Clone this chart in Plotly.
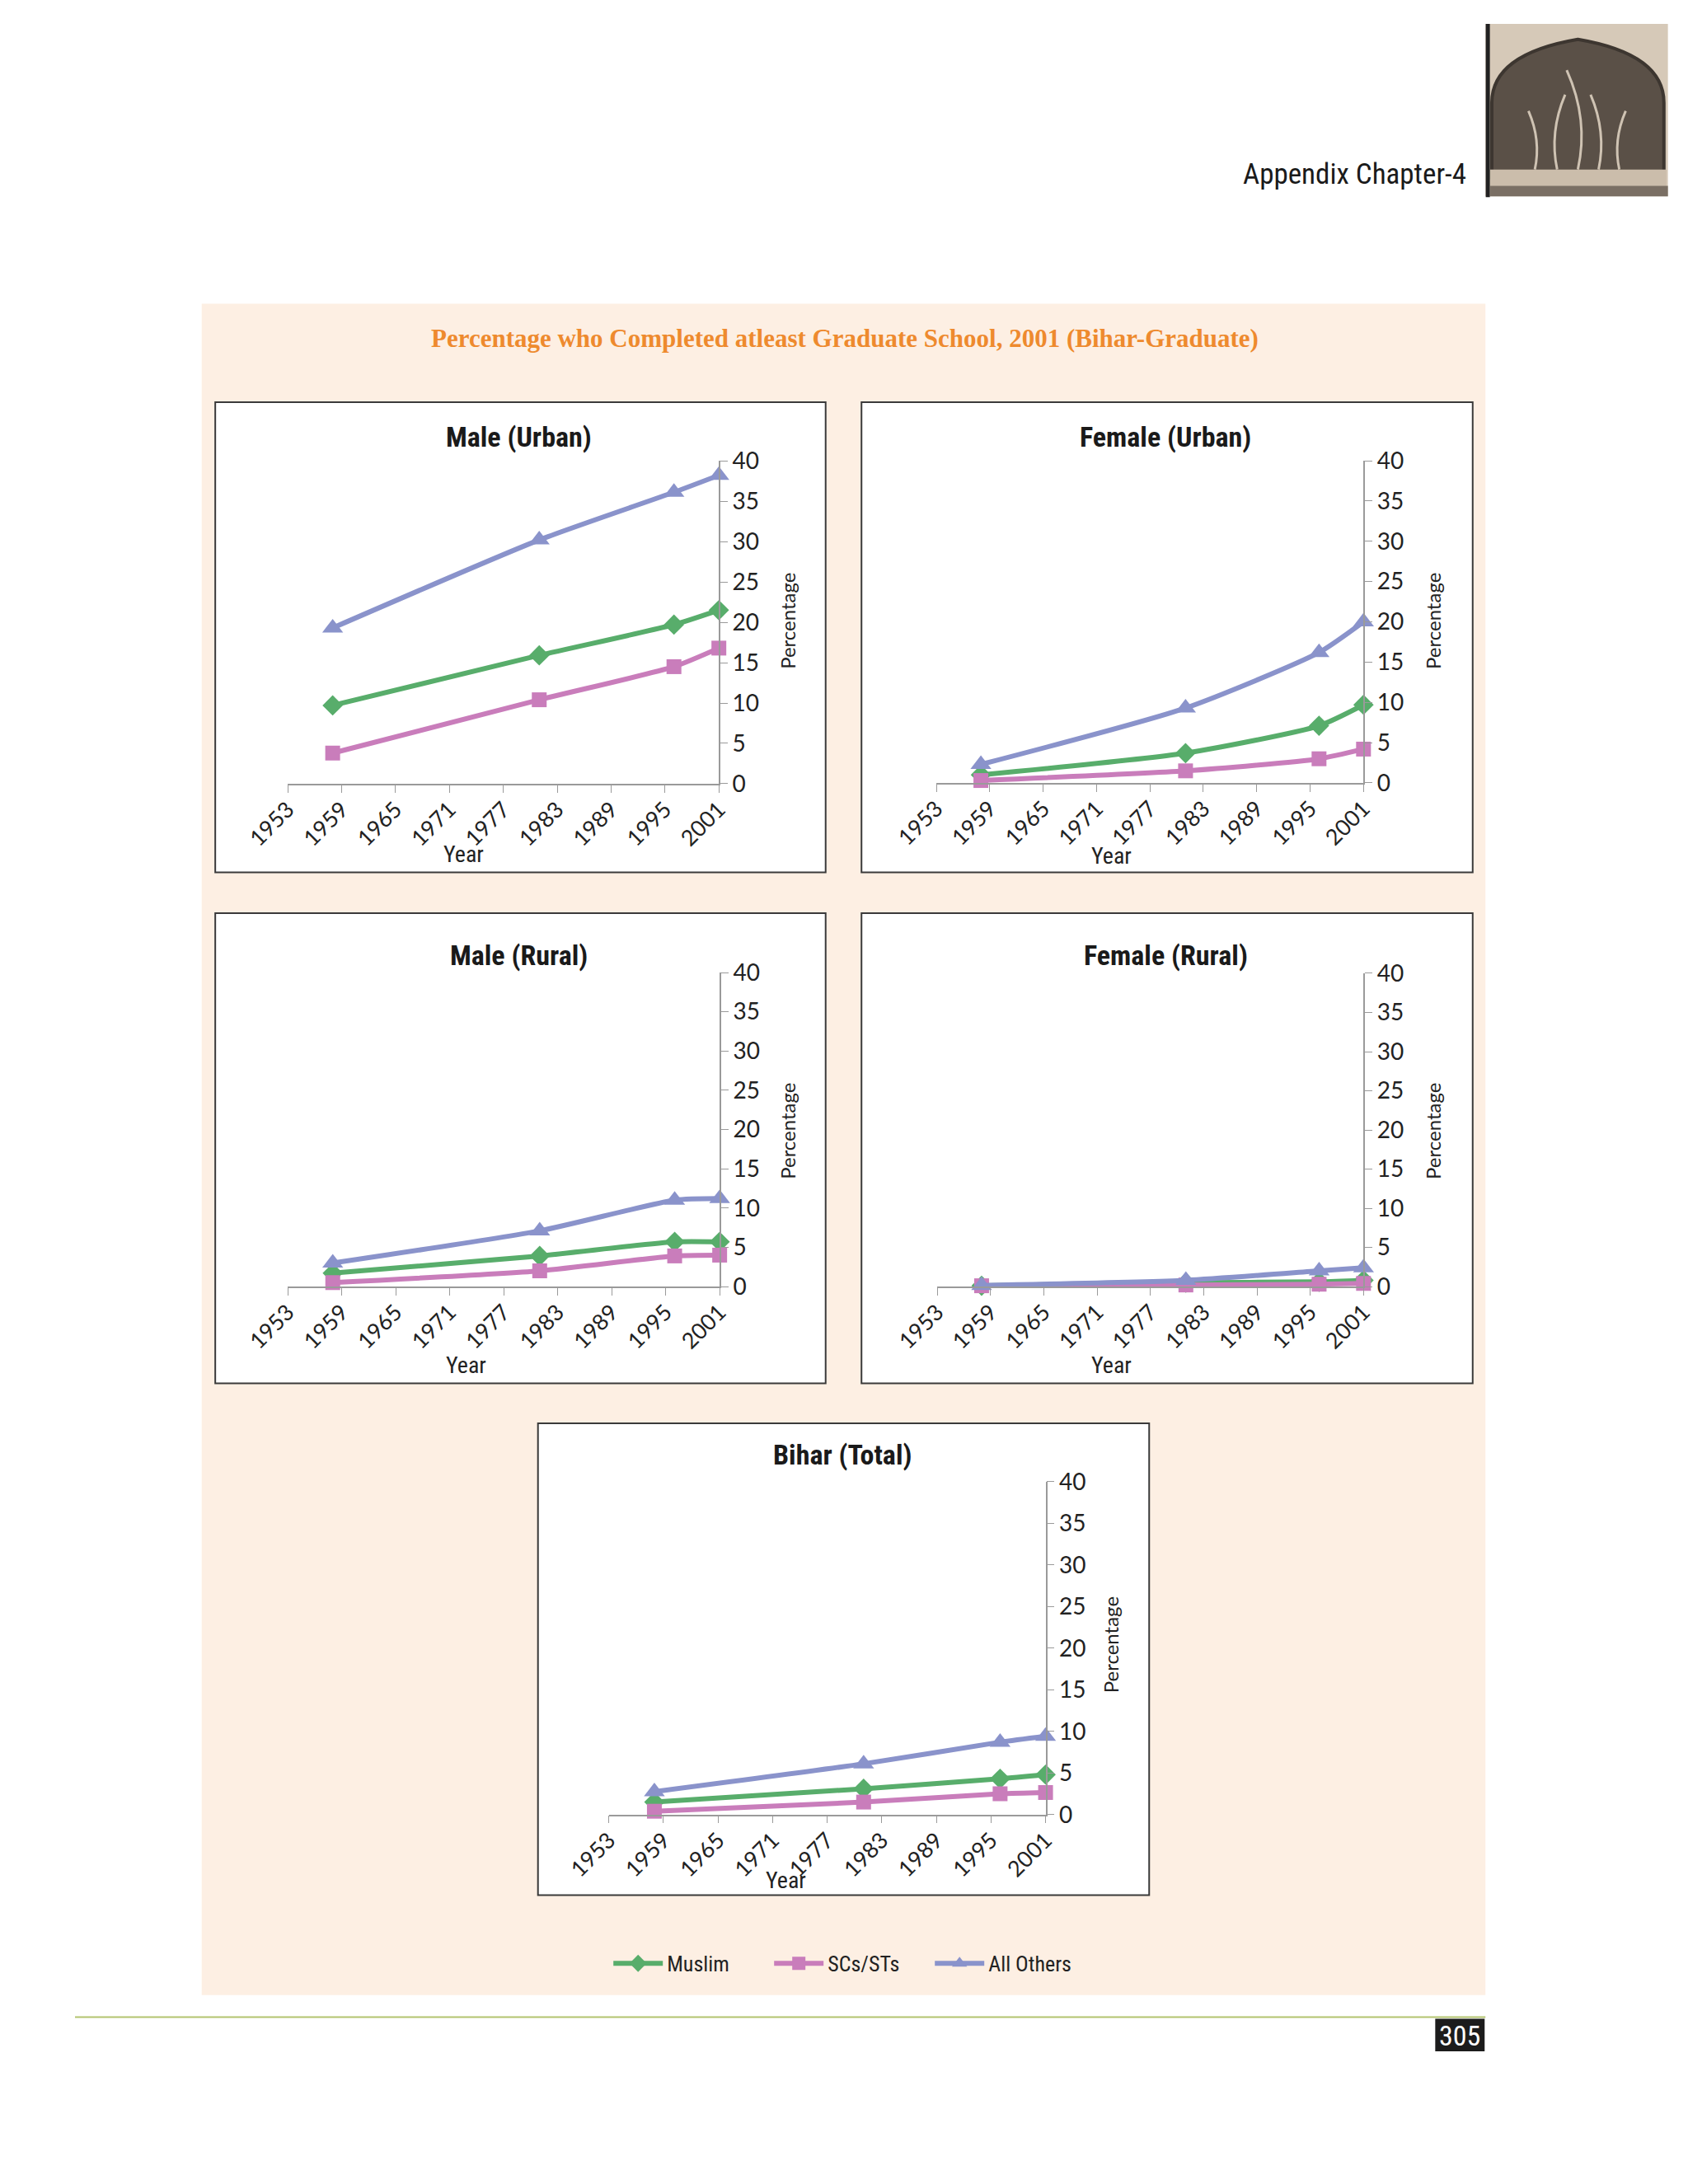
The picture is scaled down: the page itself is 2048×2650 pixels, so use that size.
import plotly.graph_objects as go

W, H = 2048, 2650

# ---- data ----
years = [1958, 1981, 1996, 2001]
year_ticks = [1953, 1959, 1965, 1971, 1977, 1983, 1989, 1995, 2001]
pct_ticks = [0, 5, 10, 15, 20, 25, 30, 35, 40]

series_names = ["Muslim", "SCs/STs", "All Others"]

male_urban_muslim = [9.7, 15.9, 19.7, 21.5]
male_urban_scst = [3.8, 10.4, 14.5, 16.8]
male_urban_others = [19.3, 30.2, 36.1, 38.2]

female_urban_muslim = [1.0, 3.7, 7.1, 9.7]
female_urban_scst = [0.3, 1.5, 3.0, 4.2]
female_urban_others = [2.3, 9.3, 16.2, 20.0]

male_rural_muslim = [1.7, 3.9, 5.7, 5.7]
male_rural_scst = [0.5, 2.0, 3.9, 4.0]
male_rural_others = [3.0, 7.1, 11.0, 11.2]

female_rural_muslim = [0.1, 0.5, 0.6, 0.8]
female_rural_scst = [0.1, 0.2, 0.3, 0.4]
female_rural_others = [0.15, 0.8, 2.0, 2.4]

bihar_muslim = [1.5, 3.1, 4.3, 4.8]
bihar_scst = [0.4, 1.5, 2.5, 2.65]
bihar_others = [2.75, 6.1, 8.7, 9.4]

# ---- styling ----
colors = ["#58ad6b", "#c97dbb", "#8a93cb"]
symbols = ["diamond", "square", "triangle-up"]
msizes = [19, 18, 22]

NARROW = "Liberation Sans Narrow, Roboto Condensed, Arial Narrow, sans-serif"
SANS = "Lato, Open Sans, sans-serif"
SERIF = "Liberation Serif, DejaVu Serif, serif"

# panel layout in page pixels:
# title, box (l, t, r, b), plot area (x0, x1, y_top, y_bottom), title y, year (x, y), percentage (x, y)
panels = [
    ("Male (Urban)", (206, 468, 972, 1046), (297, 838, 540, 937), 511, (518, 1024), (924, 737),
     [male_urban_muslim, male_urban_scst, male_urban_others]),
    ("Female (Urban)", (1017, 468, 1784, 1046), (1111, 1647, 540, 936), 511, (1331, 1026), (1734, 737),
     [female_urban_muslim, female_urban_scst, female_urban_others]),
    ("Male (Rural)", (206, 1096, 972, 1674), (297, 839, 1169, 1555), 1148, (521, 1652), (924, 1364),
     [male_rural_muslim, male_rural_scst, male_rural_others]),
    ("Female (Rural)", (1017, 1096, 1784, 1674), (1112, 1647, 1170, 1555), 1148, (1331, 1652), (1734, 1364),
     [female_rural_muslim, female_rural_scst, female_rural_others]),
    ("Bihar (Total)", (611, 1723, 1378, 2303), (700, 1248, 1795, 2204), 1762, (922, 2285), (1330, 1995),
     [bihar_muslim, bihar_scst, bihar_others]),
]


def px(x):
    return x / W


def py(y):
    return 1 - y / H


def label(text, x, y, font, **kw):
    return dict(text=text, xref="paper", yref="paper", x=px(x), y=py(y),
                xanchor=kw.pop("xanchor", "center"), yanchor="middle",
                showarrow=False, font=font, **kw)


fig = go.Figure()
shapes = []
annotations = []

# peach background
shapes.append(dict(type="rect", xref="paper", yref="paper", layer="below",
                   x0=px(189), x1=px(1800), y0=py(2426), y1=py(347),
                   fillcolor="#fdefe3", line=dict(width=0)))

layout_axes = {}
for i, (title, box, area, ty, year_pos, pct_pos, vals) in enumerate(panels):
    n = "" if i == 0 else str(i + 1)
    l, t, r, b = box
    x0, x1, yt, yb = area
    shapes.append(dict(type="rect", xref="paper", yref="paper", layer="below",
                       x0=px(l), x1=px(r), y0=py(b), y1=py(t),
                       fillcolor="white", line=dict(color="#3a3a3a", width=2)))
    for k in range(3):
        fig.add_trace(go.Scatter(
            x=years, y=vals[k], name=series_names[k],
            xaxis="x" + n, yaxis="y" + n,
            mode="lines+markers",
            line=dict(color=colors[k], width=6, shape="spline", smoothing=0.6),
            marker=dict(symbol=symbols[k], size=msizes[k], color=colors[k]),
            cliponaxis=False, showlegend=(i == 0), hoverinfo="skip"))
    layout_axes["xaxis" + n] = dict(
        domain=[px(x0), px(x1)], anchor="y" + n,
        range=[1953, 2001], tickvals=year_ticks, tickangle=-45,
        showline=True, linecolor="#9a9a9a", linewidth=1.5,
        ticks="outside", ticklen=9, tickcolor="#9a9a9a",
        ticklabelstandoff=-6,
        showgrid=False, zeroline=False,
        tickfont=dict(family=SANS, size=27, color="#222"))
    layout_axes["yaxis" + n] = dict(
        domain=[py(yb), py(yt)], anchor="x" + n, side="right",
        range=[0, 40], tickvals=pct_ticks,
        showline=True, linecolor="#9a9a9a", linewidth=1.5,
        ticks="outside", ticklen=9, tickcolor="#9a9a9a",
        showgrid=False, zeroline=False,
        tickfont=dict(family=SANS, size=28, color="#222"))
    annotations.append(label("<b>" + title + "</b>", (l + r) / 2 - 2, ty,
                             dict(family=NARROW, size=34, color="#1a1a1a")))
    annotations.append(label("Percentage", pct_pos[0], pct_pos[1],
                             dict(family=SANS, size=24, color="#222"), textangle=-90))
    annotations.append(label("Year", year_pos[0], year_pos[1],
                             dict(family=NARROW, size=28, color="#222")))

# chart title
annotations.append(label("<b>Percentage who Completed atleast Graduate School, 2001 (Bihar-Graduate)</b>",
                         996, 389, dict(family=SERIF, size=31, color="#ee8a2e")))

# page header
annotations.append(label("Appendix Chapter-4", 1778, 188,
                         dict(family=NARROW, size=35, color="#1a1a1a"), xanchor="right"))

# decorative arch picture (top right)
shapes.append(dict(type="rect", xref="paper", yref="paper",
                   x0=px(1800), x1=px(2029), y0=py(215), y1=py(3),
                   fillcolor="#d6c9b8", line=dict(width=0)))
arch = "M {a},{b} L {a},{c} Q {a},{d} {e},{f} Q {g},{d} {g},{c} L {g},{b} Z".format(
    a=px(1808), b=py(192), c=py(100), d=py(40), e=px(1916), f=py(22), g=px(2024))
shapes.append(dict(type="path", xref="paper", yref="paper", path=arch,
                   fillcolor="#5a5047", line=dict(color="#3d3630", width=4)))
# pale tree branches inside the arch
for bx, top, sway in [(1916, 60, 14), (1862, 110, 8), (1968, 110, -8), (1890, 90, -10), (1942, 90, 10)]:
    branch = "M {a},{b} Q {c},{d} {e},{f}".format(
        a=px(bx), b=py(182), c=px(bx + sway), d=py((182 + top) / 2), e=px(bx - sway), f=py(top))
    shapes.append(dict(type="path", xref="paper", yref="paper", path=branch,
                       line=dict(color="#cfc3b3", width=3)))
shapes.append(dict(type="rect", xref="paper", yref="paper",
                   x0=px(1806), x1=px(2027), y0=py(202), y1=py(182),
                   fillcolor="#cbbdab", line=dict(width=0)))
shapes.append(dict(type="rect", xref="paper", yref="paper",
                   x0=px(1806), x1=px(2029), y0=py(215), y1=py(202),
                   fillcolor="#7a6f64", line=dict(width=0)))
shapes.append(dict(type="line", xref="paper", yref="paper",
                   x0=px(1803), x1=px(1803), y0=py(216), y1=py(3),
                   line=dict(color="#222", width=5)))

# footer rule and page number
shapes.append(dict(type="line", xref="paper", yref="paper",
                   x0=px(30), x1=px(1800), y0=py(2453), y1=py(2453),
                   line=dict(color="#b3c46f", width=2)))
shapes.append(dict(type="rect", xref="paper", yref="paper",
                   x0=px(1737), x1=px(1799), y0=py(2495), y1=py(2455),
                   fillcolor="#1c1c1c", line=dict(width=0)))
annotations.append(label("305", 1768, 2476, dict(family=NARROW, size=34, color="white")))

fig.update_layout(
    width=W, height=H, margin=dict(l=0, r=0, t=0, b=0),
    paper_bgcolor="white", plot_bgcolor="rgba(0,0,0,0)",
    shapes=shapes, annotations=annotations,
    legend=dict(orientation="h", x=px(1003), y=py(2387), xanchor="center",
                yanchor="middle", bgcolor="rgba(0,0,0,0)", itemwidth=60,
                entrywidth=120, entrywidthmode="pixels",
                font=dict(family=NARROW, size=26, color="#222")),
    **layout_axes)

fig.write_html("out.html")
